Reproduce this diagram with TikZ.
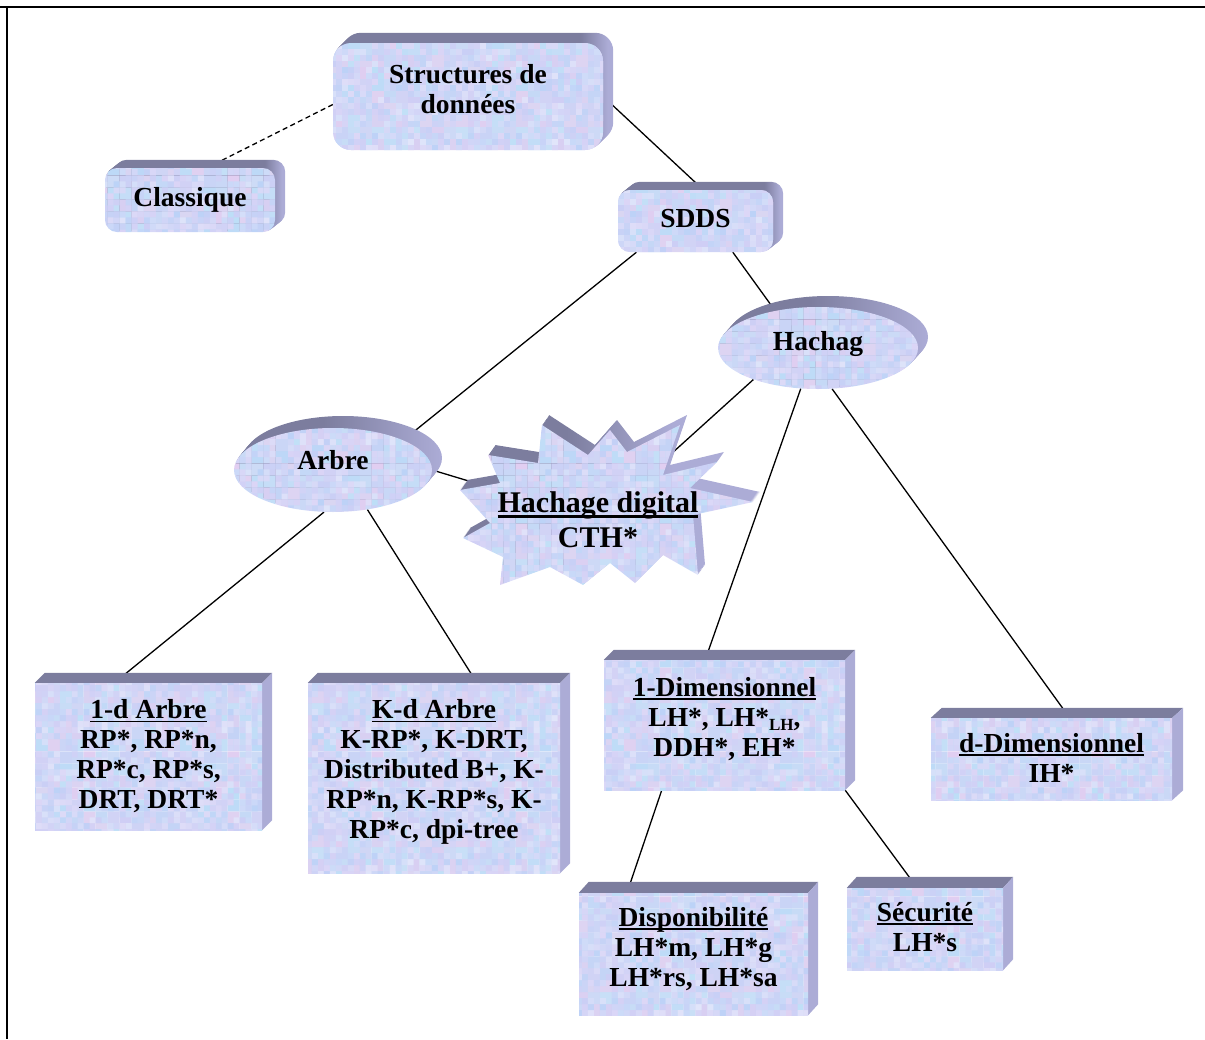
\documentclass[tikz,border=0pt]{standalone}
\usepackage{fontspec}
\setmainfont{Liberation Serif}
\usetikzlibrary{shapes.geometric,calc,patterns}

% colours of the mottled paper texture and of the bevelled sides
\definecolor{tA}{RGB}{186,210,247}
\definecolor{tB}{RGB}{216,204,244}
\definecolor{tC}{RGB}{192,236,248}
\definecolor{tD}{RGB}{238,204,238}
\definecolor{tE}{RGB}{226,230,250}
\definecolor{topc}{RGB}{124,125,158}
\definecolor{sidec}{RGB}{172,172,214}

% shadings for the swept (rounded) sides: dark on top, light on the right
\pgfdeclarehorizontalshading{rband}{100bp}{color(0bp)=(topc); color(69bp)=(topc); color(74bp)=(sidec); color(100bp)=(sidec)}
\pgfdeclarehorizontalshading{eband}{100bp}{color(0bp)=(topc); color(45bp)=(topc); color(75bp)=(sidec); color(100bp)=(sidec)}
\pgfdeclarehorizontalshading{sband}{100bp}{color(0bp)=(topc); color(42bp)=(topc); color(60bp)=(sidec); color(100bp)=(sidec)}

% a tile of random pastel blotches, used as the paper texture
\pgfmathsetseed{11}
\pgfdeclarepatterninherentlycolored{mottled}{\pgfpointorigin}{\pgfpoint{144pt}{144pt}}{\pgfpoint{144pt}{144pt}}{%
  % coarse blotches
  \foreach \i in {0,...,11}{\foreach \j in {0,...,11}{%
    \pgfmathtruncatemacro\ra{rnd*100}%
    \pgfmathtruncatemacro\rb{40+rnd*60}%
    \pgfmathtruncatemacro\rc{rnd<0.22 ? 45 : 100}%
    \pgfsetfillcolor{tA!\ra!tB!\rb!tC!\rc!tD}%
    \pgfpathrectangle{\pgfpoint{\i*12pt}{\j*12pt}}{\pgfpoint{12pt}{12pt}}%
    \pgfusepath{fill}}}%
  % fine grain on top of about half of the small cells
  \foreach \i in {0,...,23}{\foreach \j in {0,...,23}{%
    \pgfmathparse{rnd<0.55 ? 1 : 0}%
    \ifnum\pgfmathresult=1
      \pgfmathtruncatemacro\ra{rnd*100}%
      \pgfmathtruncatemacro\rb{35+rnd*65}%
      \pgfsetfillcolor{tE!\ra!tA!\rb!tB}%
      \pgfpathrectangle{\pgfpoint{\i*6pt}{\j*6pt}}{\pgfpoint{6pt}{6pt}}%
      \pgfusepath{fill}%
    \fi}}}

\pgfdeclarelayer{links}
\pgfdeclarelayer{depth}
\pgfdeclarelayer{faces}
\pgfsetlayers{links,depth,faces,main}

% underlined headings
\newsavebox\ulbox
\newcommand\uln[1]{\sbox\ulbox{#1}\leavevmode\rlap{\rule[-3.5pt]{\wd\ulbox}{1.6pt}}\usebox\ulbox}
\newcommand\ulthick[1]{\sbox\ulbox{#1}\leavevmode\rlap{\rule[-5pt]{\wd\ulbox}{3pt}}\usebox\ulbox}
\newcommand\lowsub[1]{\raisebox{-4pt}{\fontsize{17}{17}\selectfont #1}}

% straight slab sides of a box node: #1 node, #2 dx, #3 dy (upwards)
\newcommand\slab[3]{%
  \fill[topc] (#1.north west) -- ++(#2,-#3) -- ($(#1.north east)+(#2,-#3)$) -- (#1.north east) -- cycle;
  \fill[sidec] (#1.north east) -- ++(#2,-#3) -- ($(#1.south east)+(#2,-#3)$) -- (#1.south east) -- cycle;}
% swept sides of a rounded box: #1 node, #2 radius, #3 dy
\newcommand\rslab[3]{%
  \foreach \k in {1,...,10}{%
    \shade[shading=rband, rounded corners=#2]
      ($(#1.north west)+(\k,-\k*#3/10)$) rectangle ($(#1.south east)+(\k,-\k*#3/10)$);}}
% swept sides of an ellipse node: #1 node, #2 x radius, #3 y radius, #4 dy
\newcommand\eslab[4]{%
  \foreach \k in {1,...,10}{%
    \shade[shading=eband] ($(#1.center)+(\k,-\k*#4/10)$) ellipse [x radius=#2, y radius=#3];}}

\tikzset{
  face/.style={inner sep=0pt, pattern=mottled},
  boxface/.style={face, rectangle},
  roundface/.style={face, rectangle, rounded corners=#1},
  ovalface/.style={face, ellipse},
  txt/.style={font=\bfseries\fontsize{27.5}{30}\selectfont, align=center, inner sep=0pt},
  link/.style={line width=1.3pt},
  starpath/.style={insert path={(-138,-25) -- (-98,-32) -- (-110,-60) -- (-60,-52) -- (-56,-90)
    -- (-10,-60) -- (12,-85) -- (29,-63) -- (82,-90) -- (65,-40) -- (119,-53) -- (92,-27)
    -- (155,-13) -- (95,0) -- (100,60) -- (65,40) -- (37,68) -- (12,48) -- (-15,70)
    -- (-48,52) -- (-98,70) -- (-95,42) -- (-135,23) -- (-108,8) -- cycle}}
}

\begin{document}
\begin{tikzpicture}[x=1pt,y=-1pt]
\useasboundingbox (0,0) rectangle (1205,1039);

% frame
\draw[line width=2pt] (0,7) -- (1205,7);
\draw[line width=2pt] (7,7) -- (7,1039);

% front faces
\node[roundface=18pt, minimum width=270pt, minimum height=107pt] (struct) at (468,96.5) {};
\node[roundface=12pt, minimum width=170pt, minimum height=64pt] (clas) at (190,200) {};
\node[roundface=12pt, minimum width=155pt, minimum height=62pt] (sdds) at (695.5,221) {};
\node[ovalface, minimum width=200pt, minimum height=82pt] (hach) at (818,348) {};
\node[ovalface, minimum width=198pt, minimum height=84pt] (arbre) at (333,470) {};
\node[boxface, minimum width=227pt, minimum height=147pt] (d1) at (148.5,756.5) {};
\node[boxface, minimum width=252pt, minimum height=190pt] (kd) at (434,778) {};
\node[boxface, minimum width=241pt, minimum height=130pt] (dim1) at (724.5,725) {};
\node[boxface, minimum width=241pt, minimum height=82pt] (dd) at (1051.5,759) {};
\node[boxface, minimum width=229pt, minimum height=122pt] (dispo) at (693.5,954) {};
\node[boxface, minimum width=156pt, minimum height=82pt] (secu) at (925,929) {};

% texts on the faces
\node[txt] (structT) at ($(struct.center)+(0,-7)$) {Structures de\\données};
\node[txt] (clasT) at (clas.center) {Classique};
\node[txt] (sddsT) at ($(sdds.center)+(0,-2)$) {SDDS};
\node[txt] (hachT) at ($(hach.center)+(0,-4)$) {Hachag};
\node[txt] (arbreT) at ($(arbre.center)+(0,-10)$) {Arbre};
\node[txt] (d1T) at (d1.center) {\uln{1-d Arbre}\\RP*, RP*n,\\RP*c, RP*s,\\DRT, DRT*};
\node[txt] (kdT) at ($(kd.center)+(0,-6)$)
  {\uln{K-d Arbre}\\K-RP*, K-DRT,\\Distributed B+, K-\\RP*n, K-RP*s, K-\\RP*c, dpi-tree};
\node[txt] (dim1T) at ($(dim1.center)+(0,-6)$) {\uln{1-Dimensionnel}\\LH*, LH*\lowsub{LH},\\DDH*, EH*};
\node[txt] (ddT) at ($(dd.center)+(0,-1)$) {\uln{d-Dimensionnel}\\IH*};
\node[txt] (dispoT) at ($(dispo.center)+(0,-5)$) {\uln{Disponibilité}\\LH*m, LH*g\\LH*rs, LH*sa};
\node[txt] (secuT) at ($(secu.center)+(0,-2)$) {\uln{Sécurité}\\LH*s};

% explosion with its text
\coordinate (hc) at (598,515);
\node[font=\bfseries\fontsize{30}{35}\selectfont, align=center, inner sep=0pt] (hdig) at (598,520)
  {\ulthick{Hachage digital}\\CTH*};
\begin{pgfonlayer}{faces}
  \path[shift={(hc)}, pattern=mottled, starpath];
\end{pgfonlayer}

% bevelled sides
\begin{pgfonlayer}{depth}
  \rslab{struct}{18pt}{10}
  \rslab{clas}{12pt}{8}
  \rslab{sdds}{12pt}{8}
  \eslab{hach}{100}{41}{11}
  \eslab{arbre}{99}{42}{12}
  \slab{d1}{10}{10}
  \slab{kd}{10}{10}
  \slab{dim1}{10}{10}
  \slab{dd}{11}{10}
  \slab{dispo}{10}{11}
  \slab{secu}{10}{11}
  \foreach \k in {1,...,10}{\shade[shading=sband, shift={(hc)}, shift={(0.7*\k,-\k)}, starpath];}
\end{pgfonlayer}

% connectors
\begin{pgfonlayer}{links}
  \draw[link, dash pattern=on 5pt off 3.5pt] ($(struct.west)+(0,8)$) -- ($(clas.north west)!0.6!(clas.north east)$);
  \draw[link] (struct.east) -- ($(sdds.north west)!0.55!(sdds.north east)$);
  \draw[link] ($(sdds.south west)!0.12!(sdds.south east)$) -- (arbre.23);
  \draw[link] ($(sdds.south west)!0.74!(sdds.south east)$) -- (hach.139);
  \draw[link] (hach.206) -- (hdig.center);
  \draw[link] (arbre.east) -- (hdig.center);
  \draw[link] (arbre.258) -- ($(d1.north west)!0.35!(d1.north east)$);
  \draw[link] (arbre.311) -- ($(kd.north west)!0.67!(kd.north east)$);
  \draw[link] (hach.247) -- ($(dim1.north west)!0.42!(dim1.north east)$);
  \draw[link] (hach.289) -- ($(dd.north west)!0.575!(dd.north east)$);
  \draw[link] ($(dim1.south west)!0.24!(dim1.south east)$) -- ($(dispo.north west)!0.21!(dispo.north east)$);
  \draw[link] (dim1.south east) -- ($(secu.north west)!0.45!(secu.north east)$);
\end{pgfonlayer}
\end{tikzpicture}
\end{document}
